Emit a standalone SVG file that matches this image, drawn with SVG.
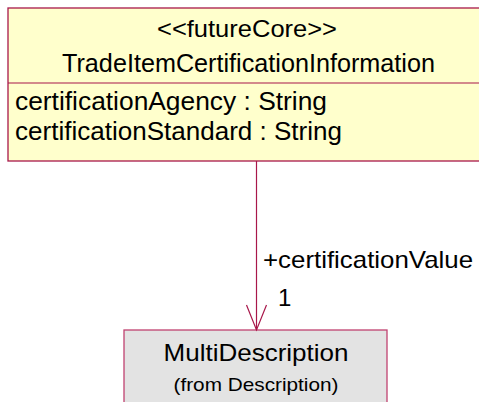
<svg xmlns="http://www.w3.org/2000/svg" width="479" height="402" viewBox="0 0 479 402">
<style>
.t{font-family:"Liberation Sans",Arial,sans-serif;fill:#000}
.box1{fill:#FFFFCC;stroke:#A8174A;stroke-width:1.3}
.box2{fill:#E3E3E3;stroke:#C04370;stroke-width:1.3}
.con{stroke:#A8174A;stroke-width:1.2;fill:none}
</style>
<rect width="479" height="402" fill="#FFFFFF"/>
<g id="TradeItemCertificationInformation">
<rect class="box1" x="8" y="8" width="482" height="153"/>
<line class="con" x1="8" y1="83" x2="479" y2="83"/>
<text class="t" x="247" y="37" font-size="24" text-anchor="middle" textLength="180" lengthAdjust="spacingAndGlyphs">&lt;&lt;futureCore&gt;&gt;</text>
<text class="t" x="248.5" y="72" font-size="25" text-anchor="middle" textLength="373" lengthAdjust="spacingAndGlyphs">TradeItemCertificationInformation</text>
<text class="t" x="15" y="110" font-size="25" textLength="312" lengthAdjust="spacingAndGlyphs">certificationAgency : String</text>
<text class="t" x="15" y="140" font-size="25" textLength="327" lengthAdjust="spacingAndGlyphs">certificationStandard : String</text>
</g>
<g id="MultiDescription">
<rect class="box2" x="124" y="330" width="263" height="80"/>
<text class="t" x="256" y="361" font-size="24" text-anchor="middle" textLength="185" lengthAdjust="spacingAndGlyphs">MultiDescription</text>
<text class="t" x="256" y="391" font-size="19" text-anchor="middle" textLength="165" lengthAdjust="spacingAndGlyphs">(from Description)</text>
</g>
<g id="connectors">
<line class="con" x1="256.5" y1="161" x2="256.5" y2="330"/>
<polyline class="con" points="246.5,305 256.5,330 266.5,305"/>
<text class="t" x="263" y="268" font-size="24" textLength="210" lengthAdjust="spacingAndGlyphs">+certificationValue</text>
<text class="t" x="278" y="306" font-size="24">1</text>
</g>
</svg>
